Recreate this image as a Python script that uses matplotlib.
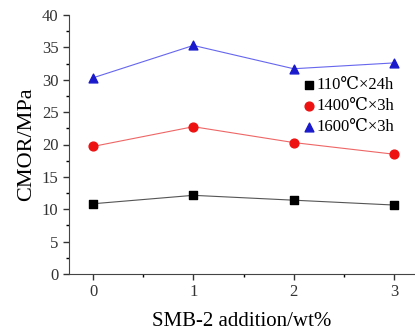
import matplotlib
matplotlib.use('Agg')
import matplotlib.pyplot as plt
from matplotlib.ticker import MultipleLocator

# data
additions = [0, 1, 2, 3]
cmor_110 = [10.85, 12.15, 11.4, 10.65]
cmor_1400 = [19.7, 22.75, 20.3, 18.5]
cmor_1600 = [30.3, 35.3, 31.7, 32.6]
labels = ['110\u2103\u00d724h', '1400\u2103\u00d73h', '1600\u2103\u00d73h']

plt.rcParams['font.family'] = ['Liberation Serif', 'DejaVu Serif']

fig = plt.figure(figsize=(4.15, 3.34), dpi=100)
ax = fig.add_axes([69 / 415, 60 / 334, 346 / 415, 259 / 334])

# lines in a light shade, markers in full colour
ax.plot(additions, cmor_110, color='#555555', linewidth=0.8, zorder=1)
ax.plot(additions, cmor_1400, color='#ee6666', linewidth=0.8, zorder=1)
ax.plot(additions, cmor_1600, color='#6666ee', linewidth=0.8, zorder=1)
ax.scatter(additions, cmor_110, marker='s', s=30, color='black', label=labels[0], zorder=2)
ax.scatter(additions, cmor_1400, marker='o', s=40, color='#ee1111', label=labels[1], zorder=2)
ax.scatter(additions, cmor_1600, marker='^', s=40, color='#1a1acc', label=labels[2], zorder=2)

ax.set_xlim(-0.24, 3.21)
ax.set_ylim(0, 40)
ax.xaxis.set_major_locator(MultipleLocator(1))
ax.xaxis.set_minor_locator(MultipleLocator(0.5))
ax.yaxis.set_major_locator(MultipleLocator(5))
ax.yaxis.set_minor_locator(MultipleLocator(2.5))
ax.tick_params(which='major', direction='out', length=4, width=1, labelsize=12, colors='#333333')
ax.tick_params(which='minor', direction='out', length=2, width=1)
ax.spines['top'].set_visible(False)
ax.spines['right'].set_visible(False)
ax.spines['left'].set_color('#444444')
ax.spines['bottom'].set_color('#444444')

ax.set_xlabel('SMB-2 addition/wt%', fontsize=15, labelpad=8)
ax.set_ylabel('CMOR/MPa', fontsize=16, labelpad=4)

ax.legend(loc='upper right', bbox_to_anchor=(0.975, 0.805), frameon=False, fontsize=12,
          handlelength=0.8, handletextpad=0.1, labelspacing=0.3, borderpad=0.2,
          markerscale=1.0)

fig.savefig('out.png', dpi=100)
